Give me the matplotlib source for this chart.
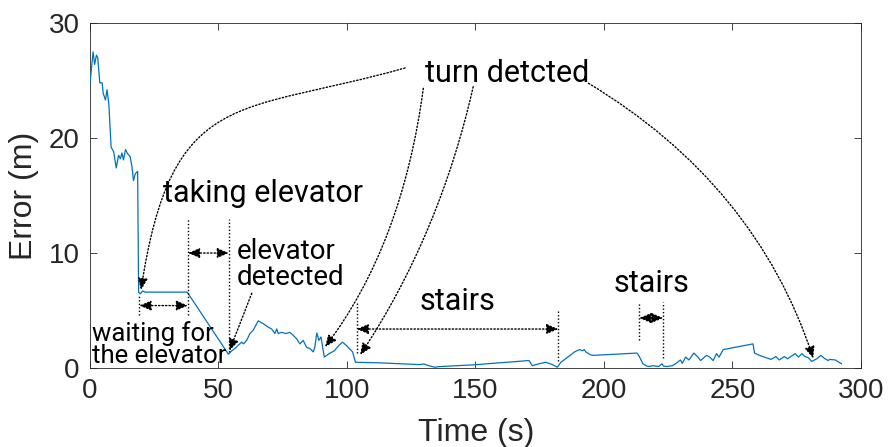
import matplotlib
matplotlib.use("Agg")
import matplotlib.pyplot as plt
from matplotlib.patches import FancyArrowPatch
from matplotlib.path import Path

# localisation error over the trace
time_s = [0.2, 1.4, 2.0, 2.7, 3.2, 4.0, 4.9, 5.3, 6.2, 6.8, 7.5, 8.4, 9.4, 10.4, 11.3,
          12.0, 12.6, 13.2, 14.0, 14.9, 15.8, 16.5, 17.1, 17.8, 18.7, 19.1, 19.7, 20.7,
          21.6, 38.0, 54.0, 55.3, 56.6, 57.9, 59.2, 59.9, 61.1, 62.4, 63.7, 65.6, 67.6,
          69.5, 70.8, 72.1, 72.8, 73.4, 74.7, 76.4, 77.9, 79.2, 80.5, 81.8, 83.1, 84.4,
          85.7, 87.0, 87.6, 88.4, 89.2, 90.0, 91.3, 93.2, 95.2, 97.1, 98.4, 99.7, 101.0,
          102.3, 103.4, 112.7, 128.0, 130.0, 132.0, 134.2, 136.0, 149.5, 170.9, 172.2,
          174.5, 177.4, 180.0, 181.9, 183.3, 186.0, 188.6, 190.5, 191.8, 192.4, 193.0,
          194.8, 196.1, 212.9, 213.8, 215.2, 216.4, 217.4, 219.3, 221.3, 222.6, 223.2,
          224.5, 226.6, 227.9, 229.8, 230.5, 231.8, 233.1, 235.0, 236.6, 237.6, 238.9,
          239.9, 241.2, 242.5, 243.8, 244.8, 246.4, 258.0, 258.6, 260.5, 263.0, 265.0,
          266.9, 268.2, 270.2, 271.4, 274.4, 275.7, 277.0, 278.2, 279.5, 280.8, 282.8,
          284.4, 286.0, 287.3, 287.8, 290.0, 292.4]
error_m = [24.8, 27.5, 26.4, 27.2, 27.0, 24.8, 24.8, 23.9, 23.3, 24.2, 23.0, 19.2, 18.8,
           17.4, 18.5, 18.2, 18.7, 18.1, 19.0, 18.6, 18.4, 17.5, 16.3, 16.9, 17.1, 6.6,
           6.45, 6.7, 6.6, 6.6, 1.2, 1.5, 1.7, 2.0, 2.25, 2.1, 2.4, 3.0, 3.3, 4.1, 3.85,
           3.55, 3.4, 3.0, 3.4, 3.0, 3.1, 3.0, 3.1, 2.85, 2.55, 2.1, 2.4, 1.8, 1.7, 1.4,
           1.8, 3.05, 2.4, 2.7, 0.95, 1.25, 1.5, 2.0, 2.25, 2.0, 1.7, 1.4, 0.5, 0.45, 0.3,
           0.35, 0.2, 0.07, 0.12, 0.28, 0.65, 0.2, 0.35, 0.5, 0.3, 0.07, 0.5, 0.95, 1.4,
           1.6, 1.5, 1.6, 1.4, 1.15, 1.1, 1.3, 1.0, 0.37, 0.2, 0.13, 0.2, 0.13, 0.37, 0.17,
           0.13, 0.2, 0.37, 0.7, 0.4, 0.95, 0.7, 1.3, 0.95, 0.65, 0.9, 1.1, 0.95, 0.65,
           1.25, 0.95, 1.6, 2.1, 1.3, 1.1, 0.9, 0.75, 1.0, 0.7, 1.0, 0.8, 1.25, 0.95, 1.25,
           1.0, 0.9, 0.57, 0.8, 1.1, 0.8, 0.65, 0.75, 0.7, 0.37]

x_ticks = [0, 50, 100, 150, 200, 250, 300]
y_ticks = [0, 10, 20, 30]

INK = "#262626"
DOT = (0, (1, 1.5))
ANN_FONT = "Roboto"

fig = plt.figure(figsize=(8.88, 4.47), dpi=100)
ax = fig.add_axes([0.1008, 0.1767, 0.8688, 0.7718])

ax.plot(time_s, error_m, color="#0072BD", lw=0.9, zorder=3)

ax.set_xlim(0, 300)
ax.set_ylim(0, 30)
ax.set_xticks(x_ticks)
ax.set_yticks(y_ticks)
ax.tick_params(direction="in", length=5, width=0.6, top=True, right=True,
               labelsize=20, colors=INK, pad=7)
for lab in ax.get_xticklabels() + ax.get_yticklabels():
    lab.set_family("Liberation Sans")
for sp in ax.spines.values():
    sp.set_color(INK)
    sp.set_linewidth(0.6)

ax.set_xlabel("Time (s)", fontsize=23, color=INK, family="Liberation Sans", va="center")
ax.set_ylabel("Error (m)", fontsize=23, color=INK, family="Liberation Sans", va="center")
ax.xaxis.set_label_coords(0.501, -0.188)
ax.yaxis.set_label_coords(-0.0855, 0.5)

head = "-|>,head_length=7,head_width=3"
both = "<|-|>,head_length=7,head_width=3"


def vdots(x, y0, y1):
    ax.plot([x, x], [y0, y1], color="k", lw=1, ls=DOT, zorder=4)


def span(x0, x1, y):
    ax.annotate("", xy=(x1, y), xytext=(x0, y),
                arrowprops=dict(arrowstyle=both, color="k", lw=1, ls=DOT,
                                shrinkA=0, shrinkB=0, mutation_scale=1), zorder=5)


def curved(p0, c1, c2, p1):
    path = Path([p0, c1, c2, p1], [Path.MOVETO, Path.CURVE4, Path.CURVE4, Path.CURVE4])
    arr = FancyArrowPatch(path=path, arrowstyle=head, color="k", lw=1, ls=DOT,
                          mutation_scale=1, transform=ax.transData, zorder=5)
    ax.add_patch(arr)


# waiting for the elevator / taking elevator
vdots(19.4, 4.6, 6.35)
vdots(38.3, 4.6, 13.0)
vdots(54.2, 1.4, 13.0)
span(19.4, 38.3, 5.43)
span(38.3, 54.2, 10.0)

# stairs sections
vdots(103.9, 1.3, 5.65)
vdots(182.3, 0.6, 5.04)
span(103.9, 182.3, 3.39)
vdots(213.8, 2.43, 5.76)
vdots(223.1, 0.87, 5.76)
span(213.8, 223.1, 4.35)

# turn detections
curved((122.7, 26.09), (58.0, 22.0), (32.0, 24.5), (20.0, 6.78))
curved((129.8, 24.32), (124.4, 15.26), (111.7, 7.77), (91.6, 1.83))
curved((149.2, 24.46), (140.6, 15.98), (126.0, 8.10), (105.2, 1.13))
curved((194.0, 24.76), (237.4, 18.92), (266.6, 10.95), (281.45, 0.84))

# elevator detected
ax.annotate("", xy=(54.4, 1.5), xytext=(63.1, 6.5),
            arrowprops=dict(arrowstyle=head, color="k", lw=1, ls=DOT,
                            shrinkA=0, shrinkB=0, mutation_scale=1), zorder=5)

# multi-line labels sit on the baseline of their last line
txt = dict(family=ANN_FONT, color="k", ha="left", va="baseline", zorder=6)
ax.text(130.5, 24.84, "turn detcted", fontsize=22, **txt)
ax.text(28.7, 14.46, "taking elevator", fontsize=22, **txt)
ax.text(128.5, 5.04, "stairs", fontsize=22, **txt)
ax.text(203.9, 6.63, "stairs", fontsize=22, **txt)
ax.text(57.2, 7.2, "elevator\ndetected", fontsize=20, linespacing=0.98, **txt)
ax.text(0.9, 0.41, "waiting for\nthe elevator", fontsize=18.5, linespacing=0.93, **txt)

fig.savefig("out.png", dpi=100)
